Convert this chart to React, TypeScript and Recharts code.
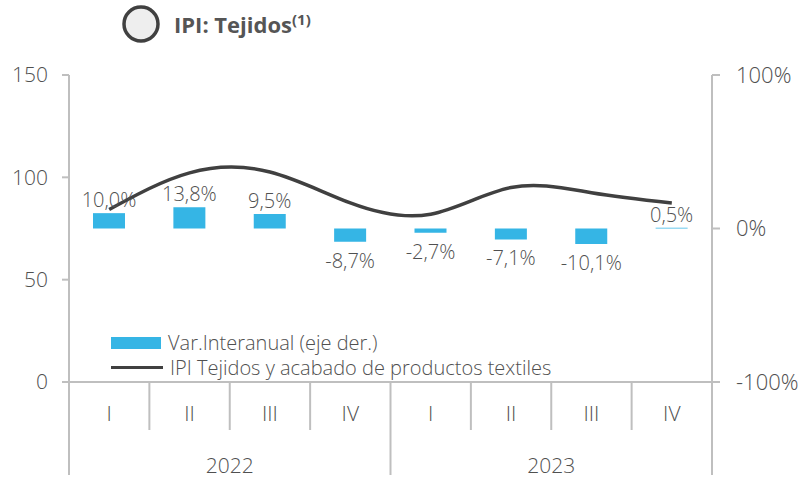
import React from "react";
import {
  ComposedChart,
  Bar,
  Line,
  XAxis,
  YAxis,
  LabelList,
} from "recharts";

const quarters = ["I", "II", "III", "IV", "I", "II", "III", "IV"];
const years = ["2022", "2022", "2022", "2022", "2023", "2023", "2023", "2023"];
const varInteranual = [10.0, 13.8, 9.5, -8.7, -2.7, -7.1, -10.1, 0.5];
const ipiTejidos = [84.3, 102.2, 102.6, 87.5, 82.0, 95.0, 92.5, 87.5];
const leftTicks = [0, 50, 100, 150];
const rightTicks = [-100, 0, 100];

const data = quarters.map((q, i) => ({
  q,
  year: years[i],
  var: varInteranual[i],
  ipi: ipiTejidos[i],
}));

const W = 809;
const H = 478;
const margin = { top: 75, right: 7, left: 9, bottom: 0 };
const leftW = 60;
const rightW = 90;
const plotW = W - margin.left - margin.right - leftW - rightW;
const step = plotW / data.length;

const FONT = "'Open Sans', 'Noto Sans', sans-serif";
const TEXT = "#505050";
const GRID = "#bfbfbf";
const BLUE = "#35b5e5";
const DARK = "#404040";

const fmt = (v: number) => v.toFixed(1).replace(".", ",") + "%";

// two-level category axis: quarter label + separators, year label under each group
function QuarterTick(props: any) {
  const { x, y, payload } = props;
  const i = payload.index ?? props.index;
  const first = i === 0 || years[i] !== years[i - 1];
  const last = i === data.length - 1;
  return (
    <g>
      <line x1={x - step / 2} x2={x - step / 2} y1={y} y2={first ? y + 93 : y + 48} stroke={GRID} strokeWidth={2} />
      {last && <line x1={x + step / 2} x2={x + step / 2} y1={y} y2={y + 93} stroke={GRID} strokeWidth={2} />}
      <text x={x} y={y + 39} textAnchor="middle" fill={TEXT} fontSize={21} fontWeight={300} fontFamily={FONT}>
        {payload.value}
      </text>
      {first && (
        <text x={x + step * 1.5} y={y + 91} textAnchor="middle" fill={TEXT} fontSize={21} fontWeight={300} fontFamily={FONT}>
          {years[i]}
        </text>
      )}
    </g>
  );
}

function BarLabel(props: any) {
  const { x, y, width, height, value } = props;
  const v = Number(value);
  const top = Math.min(y, y + height);
  const bottom = Math.max(y, y + height);
  const ty = v >= 0 ? top - 6 : bottom + 26;
  return (
    <text x={x + width / 2} y={ty} textAnchor="middle" fill={TEXT} fontSize={20} fontWeight={300} fontFamily={FONT}>
      {fmt(v)}
    </text>
  );
}

function LegendBox() {
  return (
    <div style={{ fontFamily: FONT, fontSize: 20, fontWeight: 300, color: TEXT, lineHeight: "25px" }}>
      <div style={{ display: "flex", alignItems: "center" }}>
        <span style={{ display: "inline-block", width: 50, height: 12, background: BLUE, marginRight: 7 }} />
        Var.Interanual (eje der.)
      </div>
      <div style={{ display: "flex", alignItems: "center" }}>
        <span style={{ display: "inline-block", width: 52, height: 3, background: DARK, marginRight: 7 }} />
        IPI Tejidos y acabado de productos textiles
      </div>
    </div>
  );
}

const tickStyle = { fill: TEXT, fontSize: 21, fontWeight: 300, fontFamily: FONT };

export default function App() {
  return (
    <div style={{ position: "absolute", left: 0, top: 0, width: W, height: H, background: "#fff" }}>
      <div style={{ position: "absolute", left: 121, top: 4, display: "flex", alignItems: "center", fontFamily: FONT, color: "#555", zIndex: 2 }}>
        <svg width={40} height={40}>
          <circle cx={20} cy={20} r={17} fill="#eeeeee" stroke={DARK} strokeWidth={3.5} />
        </svg>
        <span style={{ marginLeft: 13, fontSize: 22, fontWeight: 700 }}>
          IPI: Tejidos<sup style={{ fontSize: 15 }}>(1)</sup>
        </span>
      </div>
      <div style={{ position: "absolute", left: 111, top: 330, zIndex: 2 }}>
        <LegendBox />
      </div>
      <ComposedChart width={W} height={H} data={data} margin={margin}>
        <XAxis
          dataKey="q"
          height={96}
          axisLine={{ stroke: GRID, strokeWidth: 2 }}
          tickLine={false}
          tickSize={0}
          tickMargin={0}
          tick={<QuarterTick />}
          interval={0}
        />
        <YAxis
          yAxisId="left"
          width={leftW}
          domain={[0, 150]}
          ticks={leftTicks}
          axisLine={{ stroke: GRID, strokeWidth: 2 }}
          tickLine={{ stroke: GRID, strokeWidth: 2 }}
          tickSize={7}
          tickMargin={14}
          tick={tickStyle}
        />
        <YAxis
          yAxisId="right"
          orientation="right"
          width={rightW}
          domain={[-100, 100]}
          ticks={rightTicks}
          tickFormatter={(v) => `${v}%`}
          axisLine={{ stroke: GRID, strokeWidth: 2 }}
          tickLine={{ stroke: GRID, strokeWidth: 2 }}
          tickSize={8}
          tickMargin={16}
          tick={{ ...tickStyle, fontSize: 22 }}
        />
        <Bar yAxisId="right" dataKey="var" name="Var.Interanual (eje der.)" fill={BLUE} barSize={32} isAnimationActive={false}>
          <LabelList dataKey="var" content={<BarLabel />} />
        </Bar>
        <Line
          yAxisId="left"
          type="natural"
          dataKey="ipi"
          name="IPI Tejidos y acabado de productos textiles"
          stroke={DARK}
          strokeWidth={3.5}
          dot={false}
          activeDot={false}
          isAnimationActive={false}
        />
      </ComposedChart>
    </div>
  );
}
